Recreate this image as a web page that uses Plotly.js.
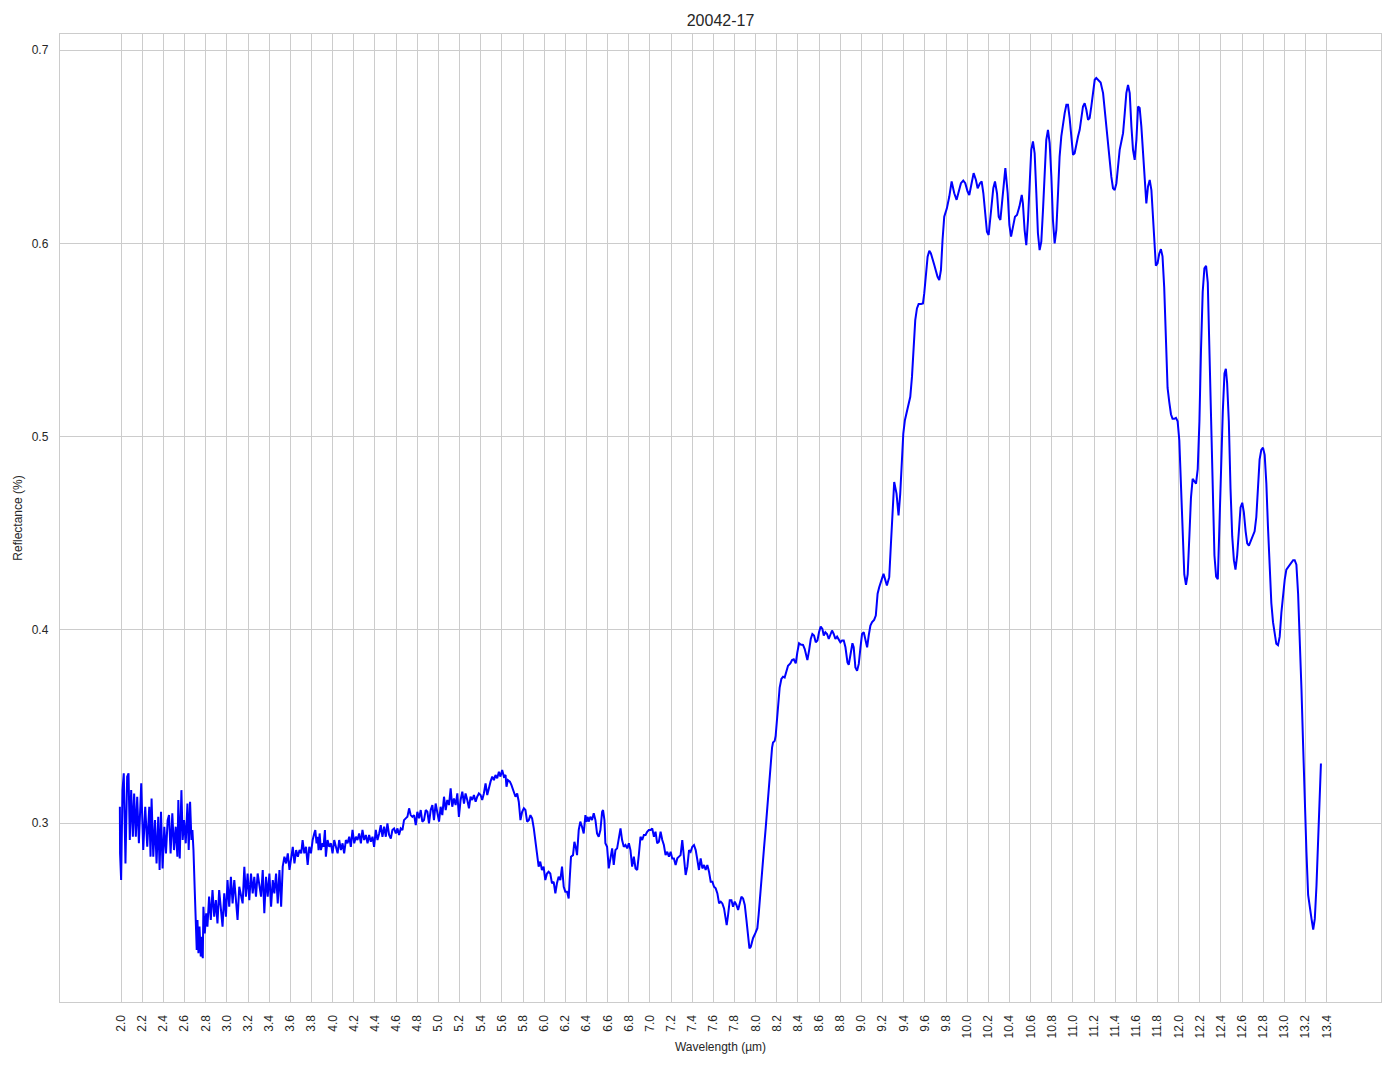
<!DOCTYPE html>
<html>
<head>
<meta charset="utf-8">
<script src="https://cdn.plot.ly/plotly-3.0.1.min.js"></script>
<style>html,body{margin:0;padding:0;background:#fff;}#chart{width:1394px;height:1069px;}</style>
</head>
<body>
<div id="chart"></div>
<script>
// Sample 20042-17 reflectance spectrum.
const wlA = [1.988,1.990,2.000,2.013,2.025,2.041,2.057,2.070,2.082,2.095,2.111,2.123,2.139,2.152,2.168,2.190,2.209,2.228,2.247,2.266,2.278,2.288,2.304,2.320,2.335,2.351,2.364,2.377,2.392,2.408,2.424,2.440,2.453,2.468,2.484,2.500,2.516,2.532,2.541,2.554,2.570,2.582,2.595,2.611,2.627,2.639,2.652,2.665,2.674,2.684,2.696,2.706,2.715,2.722,2.731,2.741,2.753,2.763,2.772,2.778,2.791,2.804,2.816,2.832,2.848,2.864,2.880,2.896,2.911,2.927,2.943,2.959,2.975,2.991,3.006,3.022,3.038,3.054,3.070,3.085,3.101,3.117,3.133,3.149,3.165,3.180,3.196,3.212,3.228,3.244,3.259,3.275,3.291,3.307,3.323,3.339,3.354,3.370,3.386,3.402,3.418,3.434,3.449,3.465,3.481,3.497,3.513,3.528,3.544,3.560,3.576,3.592,3.608,3.623,3.639,3.655,3.671,3.687,3.703];
const rfA = [0.3085,0.2844,0.2706,0.3171,0.3258,0.2792,0.3240,0.3258,0.2913,0.3171,0.2930,0.3154,0.2930,0.3137,0.2896,0.3206,0.2861,0.3085,0.2878,0.3085,0.2827,0.3128,0.2827,0.3016,0.2792,0.3033,0.2758,0.3059,0.2766,0.2982,0.2844,0.3016,0.3042,0.2844,0.3051,0.2861,0.2982,0.2827,0.3120,0.2818,0.3171,0.2913,0.3016,0.2896,0.3102,0.2861,0.3111,0.2913,0.2965,0.2861,0.2654,0.2396,0.2344,0.2499,0.2327,0.2465,0.2310,0.2413,0.2301,0.2568,0.2430,0.2534,0.2465,0.2620,0.2499,0.2654,0.2516,0.2602,0.2482,0.2654,0.2534,0.2465,0.2637,0.2516,0.2706,0.2568,0.2723,0.2585,0.2706,0.2602,0.2499,0.2671,0.2620,0.2585,0.2775,0.2620,0.2740,0.2602,0.2740,0.2637,0.2723,0.2620,0.2740,0.2671,0.2620,0.2758,0.2534,0.2723,0.2620,0.2740,0.2568,0.2706,0.2637,0.2740,0.2585,0.2758,0.2568,0.2775,0.2827,0.2792,0.2844,0.2758,0.2809,0.2878,0.2792,0.2861,0.2827,0.2861,0.2844];

const wlB = [3.716,3.732,3.748,3.764,3.779,3.795,3.811,3.826,3.836,3.848,3.858,3.867,3.877,3.889,3.905,3.914,3.927,3.936,3.952,3.968,3.984,3.999,4.015,4.031,4.047,4.062,4.078,4.094,4.109,4.125,4.141,4.157,4.172,4.188,4.204,4.220,4.235,4.251,4.267,4.282,4.298,4.314,4.330,4.345,4.361,4.377,4.392,4.408,4.424,4.440,4.455,4.471,4.487,4.503,4.518,4.534,4.550,4.565,4.581,4.597,4.613,4.628,4.644,4.660,4.675,4.691,4.707,4.723,4.738,4.754,4.770,4.786,4.801,4.817,4.833,4.848,4.864,4.880,4.896,4.911,4.927,4.943,4.958,4.974,4.990,5.006,5.021,5.037,5.053,5.069,5.084,5.100,5.116,5.131,5.147,5.163,5.179,5.194,5.210,5.226,5.242,5.257,5.273,5.289,5.304,5.320,5.336,5.352,5.367,5.383,5.399,5.414,5.430,5.446,5.462,5.477,5.493,5.509,5.525,5.540,5.556,5.572,5.587,5.603,5.619,5.635,5.644,5.657,5.676,5.691,5.713,5.729,5.745,5.760,5.776,5.792,5.808,5.823,5.839,5.855,5.870,5.886,5.902];
const rfB = [0.2913,0.2844,0.2878,0.2784,0.2878,0.2844,0.2913,0.2947,0.2965,0.2896,0.2930,0.2861,0.2947,0.2861,0.2896,0.2878,0.2965,0.2827,0.2913,0.2878,0.2896,0.2844,0.2913,0.2878,0.2844,0.2913,0.2861,0.2896,0.2844,0.2913,0.2896,0.2930,0.2878,0.2965,0.2896,0.2930,0.2913,0.2947,0.2896,0.2965,0.2913,0.2939,0.2896,0.2939,0.2904,0.2930,0.2878,0.2965,0.2913,0.2947,0.2990,0.2930,0.2982,0.2930,0.2999,0.2939,0.2921,0.2965,0.2973,0.2947,0.2973,0.2939,0.2973,0.2965,0.3016,0.3025,0.3033,0.3077,0.3042,0.3033,0.3042,0.2990,0.3059,0.3025,0.3068,0.3008,0.3016,0.3068,0.3059,0.2999,0.3068,0.3094,0.3016,0.3102,0.3051,0.3008,0.3085,0.3042,0.3137,0.3068,0.3120,0.3094,0.3180,0.3085,0.3128,0.3094,0.3154,0.3033,0.3120,0.3163,0.3102,0.3154,0.3120,0.3077,0.3137,0.3120,0.3146,0.3111,0.3137,0.3154,0.3146,0.3120,0.3154,0.3206,0.3146,0.3189,0.3215,0.3241,0.3223,0.3249,0.3232,0.3266,0.3241,0.3275,0.3241,0.3249,0.3189,0.3223,0.3215,0.3197,0.3163,0.3137,0.3154,0.3111,0.3016,0.3059,0.3077,0.3068,0.3008,0.3016,0.3042,0.3025,0.2973];

const wlC = [5.948,5.963,5.979,5.995,6.011,6.027,6.042,6.058,6.074,6.090,6.106,6.121,6.137,6.153,6.169,6.185,6.200,6.216,6.232,6.241,6.254,6.273,6.286,6.301,6.311,6.327,6.342,6.358,6.374,6.390,6.399,6.412,6.421,6.437,6.453,6.469,6.485,6.500,6.516,6.532,6.548,6.557,6.570,6.579,6.595,6.611,6.627,6.643,6.658,6.674,6.690,6.706,6.722,6.737,6.753,6.769,6.785,6.801,6.816,6.832,6.848,6.864,6.880,6.895,6.911,6.927,6.943,6.959,6.974,6.990,7.006,7.022,7.038,7.053,7.069,7.085,7.101,7.117,7.132,7.148,7.164,7.180,7.196,7.211,7.227,7.243,7.259,7.275,7.290,7.306,7.322,7.338,7.354,7.370,7.385,7.401,7.417,7.433,7.449,7.464,7.480,7.496,7.512,7.527,7.543,7.559,7.575,7.591,7.606,7.622,7.638,7.654,7.670,7.685,7.701,7.717,7.726,7.739,7.755,7.771,7.786,7.802,7.818,7.834,7.850,7.865,7.881,7.897,7.913,7.929,7.941,7.954];
const rfC = [0.2775,0.2801,0.2758,0.2775,0.2706,0.2740,0.2749,0.2740,0.2689,0.2697,0.2637,0.2689,0.2723,0.2706,0.2775,0.2671,0.2646,0.2646,0.2611,0.2706,0.2827,0.2835,0.2904,0.2870,0.2835,0.2965,0.3008,0.2982,0.2947,0.3042,0.3008,0.3033,0.3008,0.3033,0.3016,0.3051,0.3016,0.2947,0.2930,0.2965,0.3059,0.3068,0.3016,0.2896,0.2878,0.2766,0.2827,0.2870,0.2784,0.2861,0.2870,0.2921,0.2973,0.2913,0.2878,0.2887,0.2870,0.2896,0.2861,0.2775,0.2827,0.2766,0.2758,0.2835,0.2930,0.2913,0.2939,0.2939,0.2956,0.2965,0.2965,0.2973,0.2930,0.2956,0.2896,0.2904,0.2956,0.2913,0.2887,0.2835,0.2852,0.2827,0.2852,0.2818,0.2818,0.2784,0.2818,0.2827,0.2835,0.2913,0.2835,0.2732,0.2775,0.2861,0.2852,0.2878,0.2887,0.2861,0.2809,0.2758,0.2818,0.2766,0.2784,0.2758,0.2784,0.2749,0.2697,0.2697,0.2671,0.2663,0.2637,0.2585,0.2594,0.2585,0.2559,0.2499,0.2473,0.2525,0.2602,0.2602,0.2568,0.2594,0.2577,0.2551,0.2585,0.2620,0.2611,0.2577,0.2499,0.2396,0.2352,0.2361];

const wlD = [7.975,7.997,8.016,8.028,8.044,8.060,8.079,8.095,8.110,8.126,8.142,8.155,8.164,8.180,8.189,8.202,8.211,8.227,8.243,8.259,8.274,8.290,8.306,8.328,8.344,8.360,8.369,8.379,8.394,8.410,8.426,8.448,8.464,8.479,8.489,8.505,8.521,8.536,8.552,8.568,8.584,8.599,8.615,8.631,8.644,8.659,8.675,8.691,8.707,8.722,8.738,8.754,8.770,8.785,8.801,8.817,8.833,8.849,8.868,8.880,8.896,8.915,8.927,8.943,8.959,8.975,8.991,9.006,9.022,9.038,9.054,9.069,9.085,9.101,9.120,9.136];
const rfD = [0.2405,0.2431,0.2457,0.2526,0.2647,0.2768,0.2872,0.2976,0.3080,0.3218,0.3339,0.3391,0.3417,0.3426,0.3452,0.3529,0.3616,0.3702,0.3746,0.3758,0.3754,0.3780,0.3815,0.3827,0.3844,0.3848,0.3832,0.3827,0.3884,0.3931,0.3924,0.3922,0.3901,0.3858,0.3844,0.3893,0.3953,0.3979,0.3971,0.3936,0.3945,0.3988,0.4017,0.4005,0.3971,0.3988,0.3979,0.3953,0.3979,0.3997,0.3979,0.3953,0.3965,0.3953,0.3936,0.3945,0.3945,0.3910,0.3832,0.3820,0.3875,0.3931,0.3910,0.3806,0.3789,0.3824,0.3910,0.3979,0.3988,0.3945,0.3910,0.3971,0.4022,0.4040,0.4052,0.4074];

const wlE = [9.153,9.168,9.191,9.209,9.241,9.263,9.279,9.295,9.310,9.332,9.351,9.367,9.380,9.396,9.411,9.430,9.446,9.462,9.478,9.493,9.509,9.525,9.541,9.563,9.582,9.594,9.610,9.626,9.642,9.657,9.689,9.720,9.736,9.752,9.767,9.783,9.808,9.831,9.853,9.878,9.900,9.919,9.941,9.963,9.982,10.004,10.020,10.042,10.061,10.083,10.099,10.121,10.137,10.153,10.168,10.187,10.203,10.225,10.247,10.263,10.282,10.298,10.314,10.329,10.345,10.361,10.383,10.399,10.415,10.437,10.452,10.471,10.494,10.516];
const rfE = [0.4187,0.4221,0.4256,0.4290,0.4230,0.4273,0.4446,0.4636,0.4765,0.4705,0.4592,0.4705,0.4877,0.5016,0.5085,0.5128,0.5154,0.5206,0.5309,0.5465,0.5603,0.5663,0.5686,0.5686,0.5689,0.5741,0.5845,0.5931,0.5962,0.5948,0.5888,0.5827,0.5810,0.5862,0.6017,0.6138,0.6181,0.6242,0.6320,0.6259,0.6225,0.6268,0.6311,0.6325,0.6311,0.6268,0.6250,0.6311,0.6363,0.6328,0.6285,0.6311,0.6320,0.6259,0.6155,0.6060,0.6043,0.6155,0.6285,0.6320,0.6259,0.6138,0.6121,0.6207,0.6311,0.6389,0.6259,0.6095,0.6035,0.6095,0.6138,0.6147,0.6190,0.6250];

const wlF = [10.527,10.543,10.559,10.575,10.591,10.606,10.622,10.638,10.654,10.669,10.685,10.701,10.717,10.732,10.748,10.764,10.780,10.796,10.811,10.827,10.843,10.859,10.874,10.890,10.906,10.922,10.938,10.953,10.969,10.985,11.001,11.016,11.032,11.048,11.064,11.079,11.095,11.111,11.127,11.143,11.158,11.174,11.190,11.206,11.221,11.237,11.262,11.285,11.300,11.316,11.332,11.348,11.363,11.379,11.395,11.411,11.426,11.442,11.458,11.474,11.490,11.505,11.521,11.537,11.553,11.568,11.584,11.600,11.616,11.631,11.647,11.663,11.679,11.694,11.710,11.726,11.742,11.758,11.773];
const rfF = [0.6207,0.6069,0.5991,0.6121,0.6345,0.6484,0.6527,0.6466,0.6259,0.6052,0.5965,0.6009,0.6173,0.6380,0.6535,0.6587,0.6518,0.6345,0.6121,0.6000,0.6069,0.6259,0.6449,0.6553,0.6622,0.6674,0.6717,0.6717,0.6648,0.6535,0.6458,0.6466,0.6518,0.6553,0.6587,0.6639,0.6708,0.6725,0.6691,0.6639,0.6648,0.6708,0.6794,0.6846,0.6855,0.6846,0.6832,0.6777,0.6691,0.6604,0.6518,0.6432,0.6345,0.6285,0.6276,0.6311,0.6397,0.6484,0.6527,0.6570,0.6674,0.6777,0.6820,0.6777,0.6604,0.6484,0.6432,0.6535,0.6708,0.6700,0.6604,0.6466,0.6294,0.6207,0.6294,0.6328,0.6276,0.6121,0.5983];

const wlG = [11.784,11.800,11.816,11.832,11.847,11.863,11.879,11.895,11.911,11.927,11.942,11.958,11.974,11.990,12.006,12.022,12.037,12.053,12.069,12.085,12.101,12.116,12.132,12.148,12.164,12.180,12.196,12.211,12.227,12.243,12.259,12.275,12.291,12.306,12.322,12.338,12.354,12.370,12.385,12.401,12.417,12.433,12.446,12.458,12.474,12.490,12.506,12.522,12.537,12.553,12.569,12.585,12.601,12.616,12.633,12.648,12.664,12.680,12.696,12.718,12.734,12.749,12.765,12.781,12.797,12.813,12.829,12.844,12.860,12.876,12.892,12.908,12.923,12.939,12.955,12.971,12.987,13.003,13.018,13.034,13.050,13.066,13.082,13.097,13.113,13.129,13.145,13.161,13.177,13.192,13.208,13.224,13.240,13.256,13.272,13.287,13.303,13.319,13.335,13.345];
const rfG = [0.5884,0.5896,0.5946,0.5970,0.5933,0.5772,0.5525,0.5252,0.5178,0.5116,0.5092,0.5092,0.5097,0.5079,0.4980,0.4757,0.4485,0.4287,0.4233,0.4287,0.4485,0.4683,0.4782,0.4770,0.4757,0.4832,0.5079,0.5450,0.5748,0.5871,0.5884,0.5797,0.5450,0.5030,0.4683,0.4386,0.4275,0.4262,0.4535,0.4881,0.5129,0.5327,0.5351,0.5277,0.5079,0.4733,0.4485,0.4361,0.4312,0.4386,0.4535,0.4634,0.4658,0.4609,0.4510,0.4448,0.4436,0.4460,0.4485,0.4510,0.4584,0.4733,0.4881,0.4931,0.4943,0.4906,0.4757,0.4535,0.4312,0.4139,0.4040,0.3965,0.3928,0.3921,0.3965,0.4089,0.4188,0.4262,0.4312,0.4324,0.4337,0.4349,0.4361,0.4361,0.4337,0.4188,0.3965,0.3693,0.3396,0.3099,0.2851,0.2629,0.2554,0.2505,0.2450,0.2505,0.2678,0.2950,0.3149,0.3309];

const xTickValues = [2.0,2.2,2.4,2.6,2.8,3.0,3.2,3.4,3.6,3.8,4.0,4.2,4.4,4.6,4.8,5.0,5.2,5.4,5.6,5.8,6.0,6.2,6.4,6.6,6.8,7.0,7.2,7.4,7.6,7.8,8.0,8.2,8.4,8.6,8.8,9.0,9.2,9.4,9.6,9.8,10.0,10.2,10.4,10.6,10.8,11.0,11.2,11.4,11.6,11.8,12.0,12.2,12.4,12.6,12.8,13.0,13.2,13.4];
const xTickLabels = ["2.0","2.2","2.4","2.6","2.8","3.0","3.2","3.4","3.6","3.8","4.0","4.2","4.4","4.6","4.8","5.0","5.2","5.4","5.6","5.8","6.0","6.2","6.4","6.6","6.8","7.0","7.2","7.4","7.6","7.8","8.0","8.2","8.4","8.6","8.8","9.0","9.2","9.4","9.6","9.8","10.0","10.2","10.4","10.6","10.8","11.0","11.2","11.4","11.6","11.8","12.0","12.2","12.4","12.6","12.8","13.0","13.2","13.4"];
const yTickValues = [0.3,0.4,0.5,0.6,0.7];
const yTickLabels = ["0.3","0.4","0.5","0.6","0.7"];

const segments = [[wlA,rfA],[wlB,rfB],[wlC,rfC],[wlD,rfD],[wlE,rfE],[wlF,rfF],[wlG,rfG]];
const wavelength = [], reflectance = [];
segments.forEach(([w, r]) => {
  const n = Math.min(w.length, r.length);
  for (let i = 0; i < n; i++) { wavelength.push(w[i]); reflectance.push(r[i]); }
});

const FONT = 'Liberation Sans, Arial, Helvetica, sans-serif';
const INK = '#262626';
const GRID = '#cccccc';

const trace = {
  type: 'scatter',
  mode: 'lines',
  x: wavelength,
  y: reflectance,
  line: {color: '#0000ff', width: 2},
  hoverinfo: 'skip',
  showlegend: false
};

const layout = {
  width: 1394,
  height: 1069,
  margin: {l: 60, r: 13, t: 34, b: 67, pad: 0},
  paper_bgcolor: '#ffffff',
  plot_bgcolor: '#ffffff',
  font: {family: FONT, color: INK, size: 12},
  title: {
    text: '20042-17',
    font: {family: FONT, size: 16, color: INK},
    x: 0.5, xref: 'paper', xanchor: 'center',
    y: 1 - 20/1069, yref: 'container', yanchor: 'middle'
  },
  xaxis: {
    range: [1.422, 13.913],
    tickmode: 'array',
    tickvals: xTickValues,
    ticktext: xTickLabels,
    tickangle: -90,
    tickfont: {family: FONT, size: 12, color: INK},
    ticks: 'outside', ticklen: 7, tickcolor: 'rgba(0,0,0,0)',
    showgrid: true, gridcolor: GRID, gridwidth: 1,
    zeroline: false,
    showline: true, mirror: true, linecolor: GRID, linewidth: 1.25,
    title: {text: 'Wavelength (µm)', font: {family: FONT, size: 12, color: INK}, standoff: 5},
    automargin: false
  },
  yaxis: {
    range: [0.2075, 0.7083],
    tickmode: 'array',
    tickvals: yTickValues,
    ticktext: yTickLabels,
    tickfont: {family: FONT, size: 12, color: INK},
    ticks: 'outside', ticklen: 8, tickcolor: 'rgba(0,0,0,0)',
    showgrid: true, gridcolor: GRID, gridwidth: 1,
    zeroline: false,
    showline: true, mirror: true, linecolor: GRID, linewidth: 1.25,
    title: {text: 'Reflectance (%)', font: {family: FONT, size: 12, color: INK}, standoff: 6},
    automargin: false
  }
};

Plotly.newPlot('chart', [trace], layout, {displayModeBar: false, staticPlot: true});
</script>
</body>
</html>
